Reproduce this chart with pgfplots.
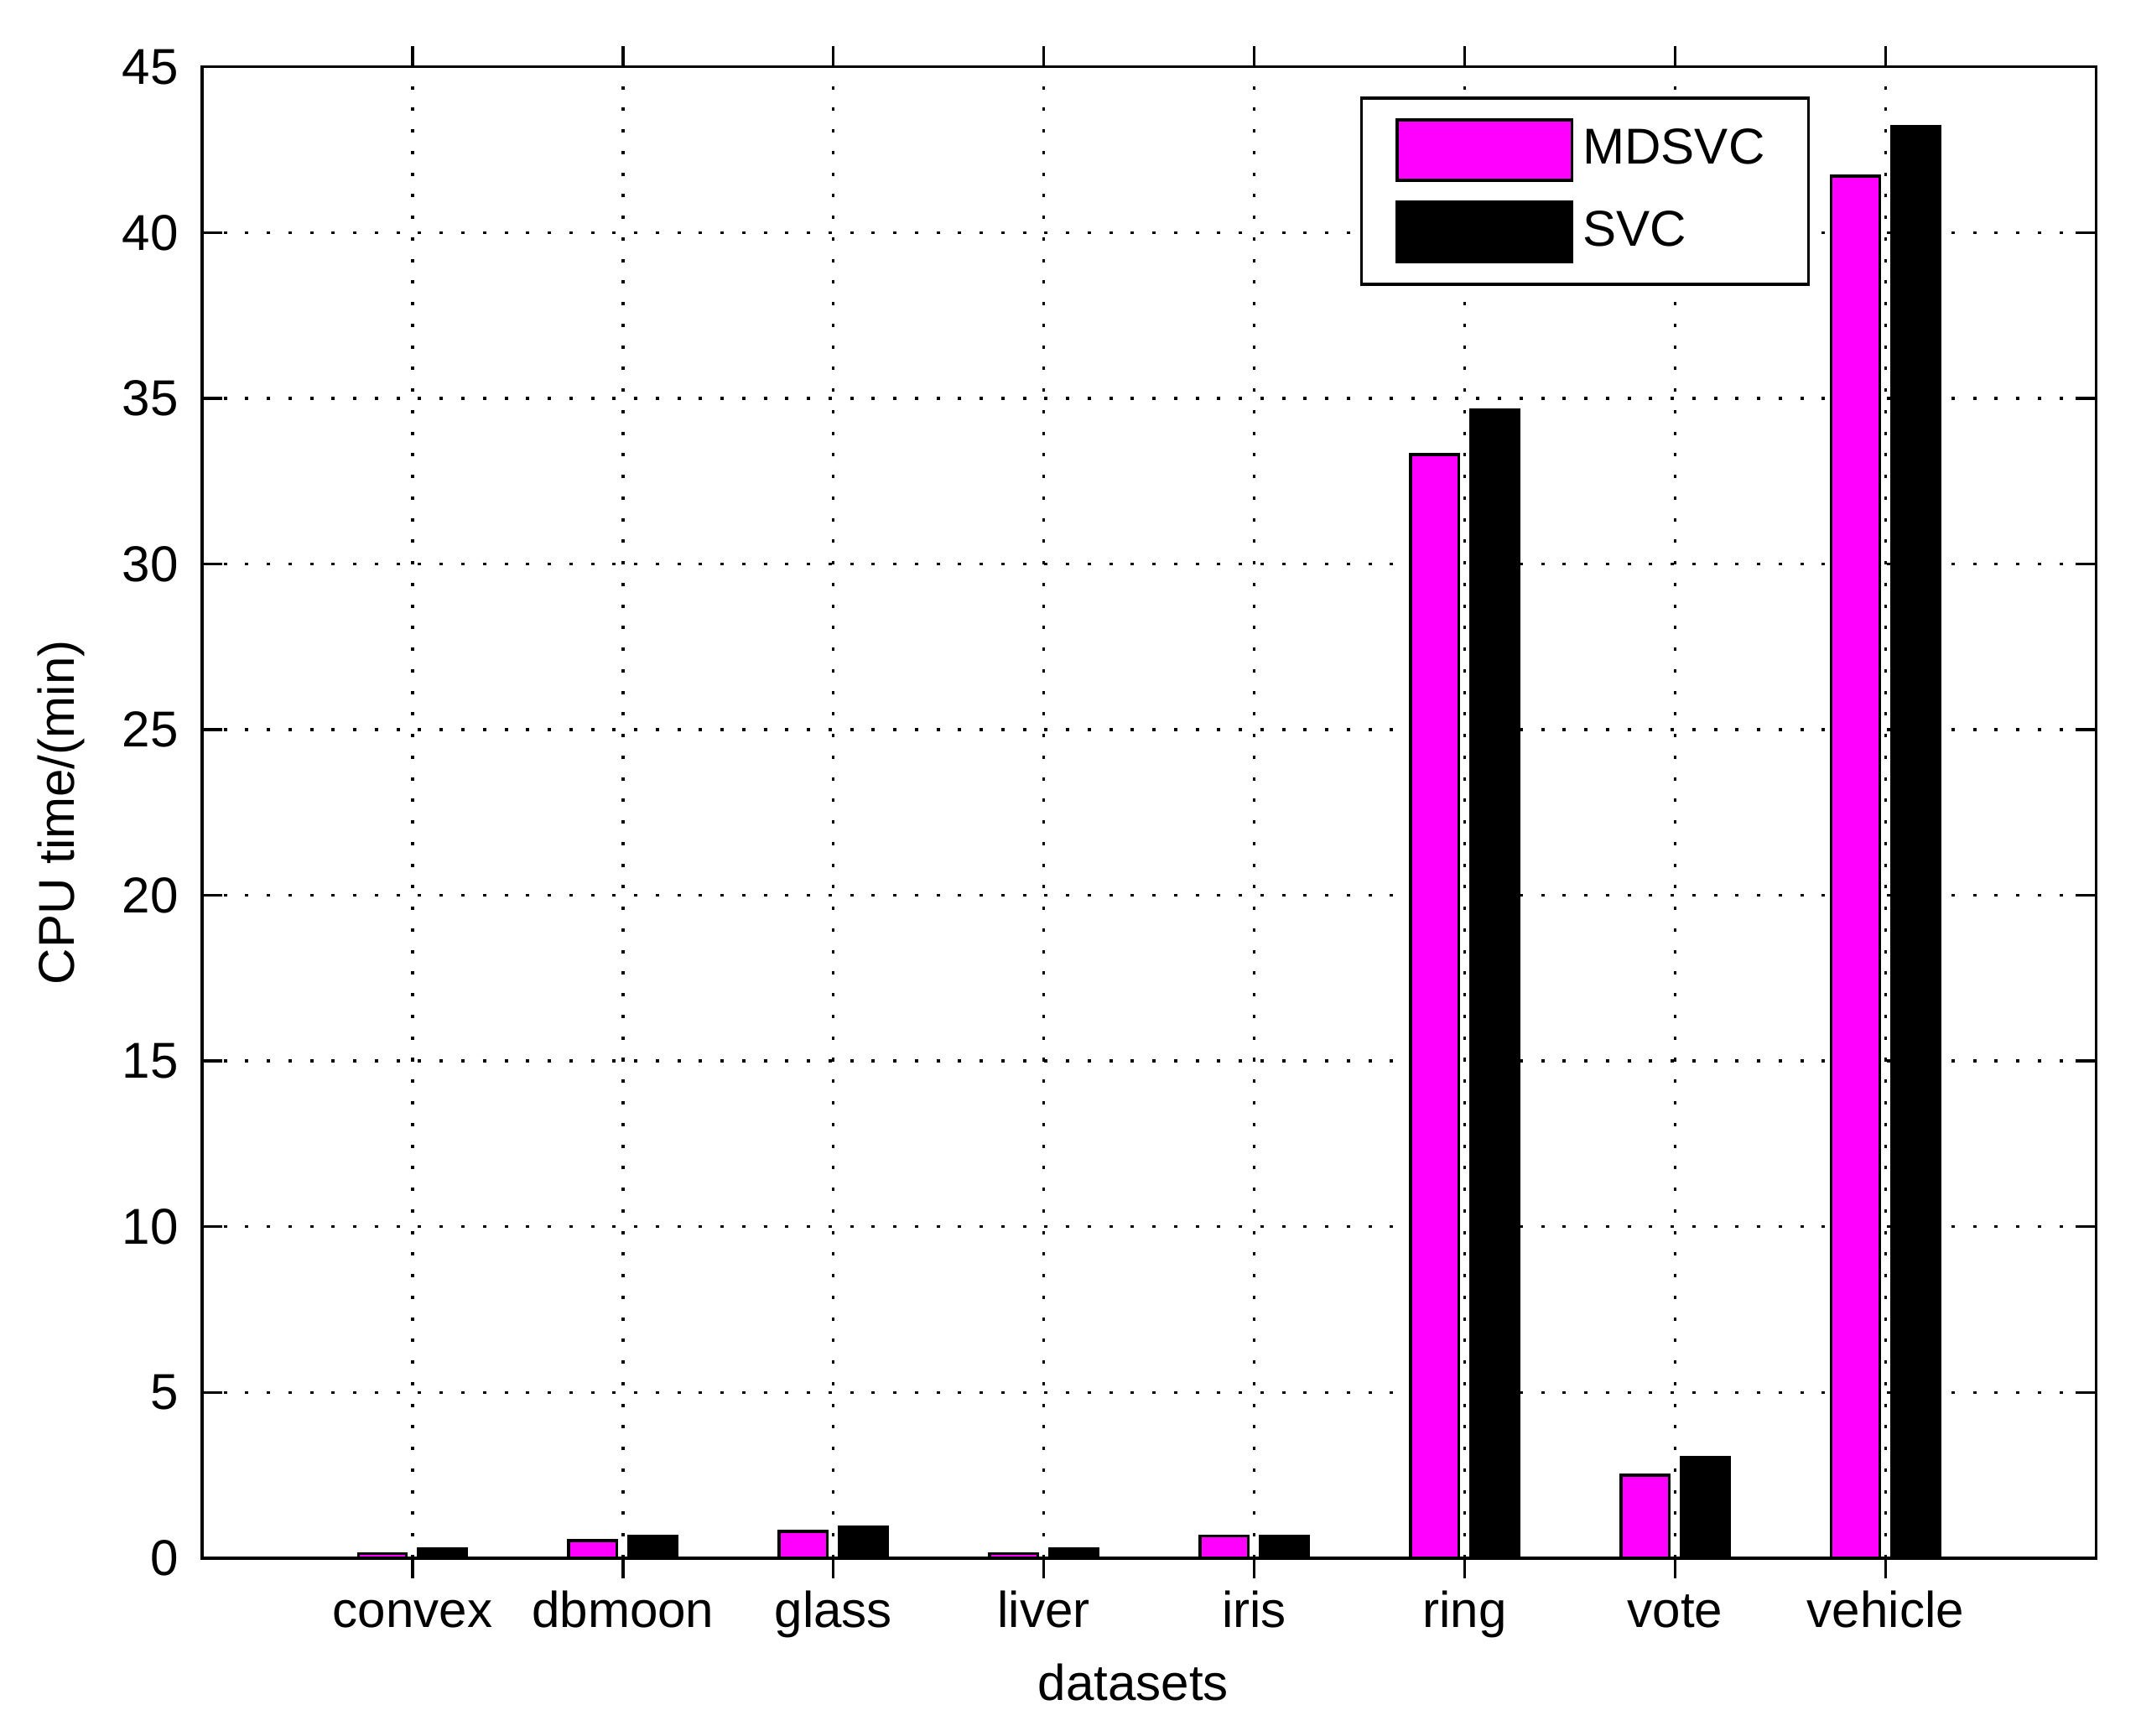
\documentclass[border=0pt]{standalone}
\usepackage{pgfplots}
\pgfplotsset{compat=1.18}
\usepackage{fontspec}
\setmainfont{Liberation Sans}
\definecolor{mdsvc}{RGB}{255,0,255}
\begin{document}
\begin{tikzpicture}
\begin{axis}[
  name=ax,
  scale only axis,
  width=13.87cm, height=10.92cm,
  xmin=0, xmax=9, ymin=0, ymax=45,
  xtick={1,...,8},
  xticklabels={convex,dbmoon,glass,liver,iris,ring,vote,vehicle},
  ytick={0,5,...,45},
  xlabel={datasets},
  ylabel={CPU time/(min)},
  x label style={at={(axis description cs:0.4917,-0.0833)},anchor=center},
  y label style={at={(axis description cs:-0.0743,0.5)},anchor=center},
  font=\fontsize{10.5}{12}\selectfont,
  /pgf/number format/assume math mode=true,
  tick align=inside,
  major tick length=0.15cm,
  axis line style={line width=0.6pt},
  tick style={line width=0.6pt, black},
  grid=major,
  major grid style={black, line width=0.6pt, dash pattern=on 0.7pt off 3.8pt},
  xticklabel style={anchor=base, yshift=-0.36cm},
  yticklabel style={xshift=-0.05cm},
  legend style={at={(0.849,0.980)}, anchor=north east, draw=black, line width=0.6pt,
    font=\fontsize{10.5}{12}\selectfont, inner xsep=0.25cm, inner ysep=0.15cm,
    row sep=0.14cm, cells={anchor=west}},
  ybar,
  bar width=0.229,
]
\addplot[fill=mdsvc, draw=black, line width=0.6pt, bar shift=-0.143,
  legend image code/.code={\draw[fill=mdsvc, draw=black, line width=0.6pt] (0cm,-0.22cm) rectangle (1.28cm,0.22cm);}]
  coordinates {
  (1,0.14)(2,0.53)(3,0.80)(4,0.14)(5,0.67)(6,33.3)(7,2.5)(8,41.7)};
\addplot[fill=black, draw=black, line width=0.6pt, bar shift=0.143,
  legend image code/.code={\draw[fill=black, draw=black, line width=0.6pt] (0cm,-0.22cm) rectangle (1.28cm,0.22cm);}]
  coordinates {
  (1,0.27)(2,0.67)(3,0.93)(4,0.27)(5,0.67)(6,34.65)(7,3.05)(8,43.2)};
\legend{MDSVC,SVC}
\end{axis}
\path (ax.south west) ++(-1.48cm,-1.30cm) coordinate (bbA);
\path (ax.north east) ++(0.33cm,0.49cm) coordinate (bbB);
\path (bbA) rectangle (bbB);
\end{tikzpicture}
\end{document}
